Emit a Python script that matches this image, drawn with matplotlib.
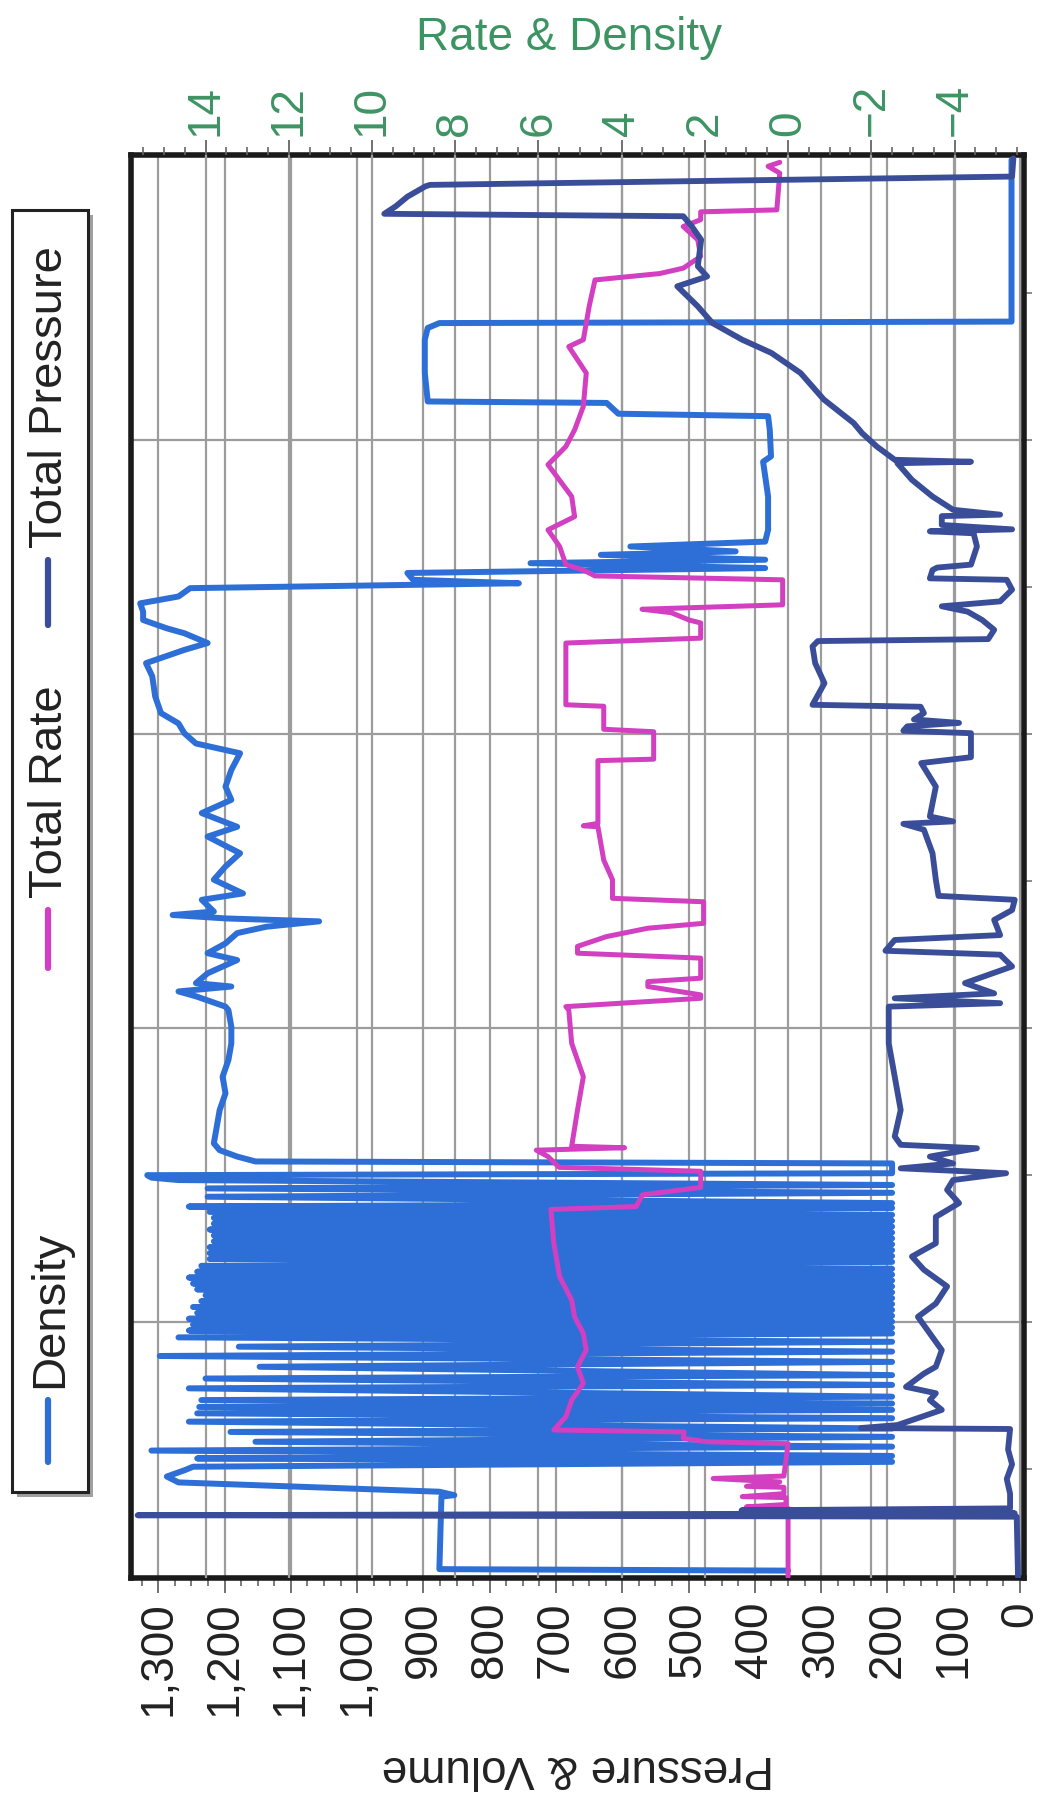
import numpy as np
import matplotlib
matplotlib.use('Agg')
import matplotlib.pyplot as plt
from matplotlib.ticker import MultipleLocator, FuncFormatter
from matplotlib.lines import Line2D
from matplotlib.patches import Rectangle

plt.rcParams['font.family'] = ['Liberation Sans', 'DejaVu Sans']

# job time (min) runs up the page, chart is printed sideways
press_time = [8.0, 20.3, 20.6, 21.0, 21.6, 22.0, 25.0, 28.0, 31.0, 34.0, 38.2, 38.4, 39.0,
              42.1, 44.1, 45.5, 46.8, 49.5, 50.9, 54.3, 57.7, 61.1, 63.8, 67.3, 70.7, 73.4,
              76.1, 81.5, 84.3, 87.0, 89.0, 90.4, 91.4, 92.4, 93.8, 95.5, 96.2, 97.9, 103.3,
              110.1, 116.9, 121.7, 124.4, 125.1, 126.1, 127.1, 129.2, 132.6, 135.0, 135.8,
              138.0, 139.0, 142.1, 144.1, 146.2, 147.0, 150.3, 155.7, 160.5, 161.7, 162.2,
              163.2, 169.3, 174.1, 175.3, 180.2, 180.7, 181.6, 182.3, 183.0, 184.3, 185.6,
              186.0, 190.4, 194.5, 197.9, 199.0, 199.4, 201.3, 203.3, 205.0, 206.1, 207.1,
              209.5, 211.5, 211.8, 213.5, 214.0, 214.6, 218.3, 221.0, 221.4, 221.8, 222.7,
              224.5, 224.8, 225.8, 228.5, 231.9, 235.3, 235.6, 236.0, 238.7, 241.4, 243.5,
              248.3, 253.7, 257.8, 260.5, 263.9, 267.3, 271.4, 273.4, 275.5, 280.9, 283.6,
              285.7, 286.2, 287.7, 289.7, 291.8, 292.1, 293.8, 297.5]
press_vals = [3, 5, 1331, 8, 420, 15, 15, 20, 12, 18, 15, 240, 185,
              118, 136, 127, 172, 145, 127, 118, 136, 154, 127, 110, 145, 163,
              127, 127, 92, 110, 101, 21, 180, 101, 136, 65, 180, 189, 180,
              189, 198, 198, 198, 30, 189, 39, 83, 12, 30, 203,
              189, 30, 39, 12, 8, 123, 127, 132, 145, 176, 101,
              136, 127, 149, 74, 74, 176, 170, 92, 160, 145, 150,
              313, 295, 309, 313, 305, 48, 39, 57, 79, 118, 30,
              12, 20, 136, 132, 125, 74, 65, 70, 136, 12, 118,
              118, 30, 101, 132, 163, 185, 74, 189, 216, 238, 251,
              296, 331, 375, 419, 464, 486, 517, 472, 486, 481, 495,
              508, 959, 942, 924, 897, 890, 12, 10]

rate_time = [8.0, 20.3, 22.0, 22.3, 22.8, 24.2, 24.4, 25.0, 26.3, 26.5, 27.4, 28.1, 28.6,
             35.2, 35.6, 36.3, 37.6, 38.0, 40.7, 44.1, 47.5, 50.9, 54.3, 57.7, 61.1, 64.5,
             69.3, 76.1, 83.0, 83.6, 86.0, 87.5, 90.8, 91.6, 93.8, 95.1, 95.6, 95.9, 103.3,
             110.1, 116.9, 123.7, 124.4, 126.1, 126.8, 128.5, 129.5, 130.2, 134.3, 135.3,
             136.7, 138.7, 140.4, 141.4, 145.8, 146.5, 150.3, 154.3, 161.1, 161.3, 161.8,
             169.3, 174.6, 174.9, 180.5, 181.0, 185.7, 186.0, 198.6, 199.6, 202.7, 203.3,
             204.8, 205.5, 206.4, 211.5, 212.3, 213.5, 214.6, 218.3, 221.7, 224.4, 228.5,
             235.0, 238.7, 242.1, 246.9, 253.7, 259.1, 260.5, 267.3, 272.7, 274.0, 275.1,
             277.5, 280.9, 283.6, 285.0, 286.6, 287.0, 294.5, 295.9, 296.7]
rate_vals = [0.0, 0.0, 0.0, 1.0, 0.05, 0.05, 1.1, 0.1, 0.1, 1.0, 0.2, 1.8, 0.1,
             0.0, 1.96, 2.52, 2.5, 5.63, 5.34, 5.2, 4.92, 5.06, 4.85, 4.92, 5.13, 5.2,
             5.49, 5.63, 5.7, 3.65, 3.5, 2.1, 2.1, 5.5, 5.77, 6.05, 3.93, 5.2, 5.06,
             4.92, 5.2, 5.27, 5.34, 2.1, 2.1, 3.37, 3.37, 2.1, 2.1, 5.06,
             5.06, 4.36, 3.37, 2.03, 2.03, 4.22, 4.22, 4.43, 4.57, 4.92, 4.57,
             4.57, 4.57, 3.23, 3.23, 4.43, 4.43, 5.34, 5.34, 2.1, 2.1, 2.38,
             2.81, 3.51, 0.13, 0.13, 4.64, 4.92, 5.34, 5.49, 5.77, 5.13, 5.2,
             5.77, 5.34, 5.13, 4.92, 4.85, 5.27, 4.92, 4.78, 4.64, 3.09, 2.52,
             2.1, 2.17, 2.52, 2.1, 2.1, 0.27, 0.2, 0.48, 0.2]

dens_time = [9.3, 9.6, 24.4, 24.7, 25.4, 27.3, 28.5, 29.8, 30.5,
             31.5, 32.2, 32.7, 33.8, 34.6, 35.6, 36.6, 37.6, 38.3, 39.7, 40.4, 41.4, 42.1,
             42.7, 43.4, 44.1, 44.8, 46.5, 47.2, 48.5, 49.2, 50.9, 51.9, 53.1, 54.0, 55.0,
             56.0, 56.9, 57.7,
             58.3, 58.9, 59.5, 60.1, 60.7, 61.3, 61.9, 62.5, 63.1, 63.7, 64.3, 64.9, 65.5,
             66.1, 66.7, 67.3, 67.9, 68.5, 69.1, 69.7, 70.3, 70.9, 71.5, 72.3, 72.9, 73.5,
             74.1, 74.7, 75.3, 75.9, 76.5, 77.1, 77.7, 78.3, 78.9, 79.5, 80.1, 80.7, 81.3,
             81.9, 82.5,
             83.3, 83.6, 84.3, 85.6, 86.4, 87.3, 88.0, 89.0, 89.5, 90.0, 90.4, 92.4, 92.8,
             93.8, 95.1, 96.5, 99.9, 103.3, 106.7, 110.1, 113.5, 116.9, 120.3, 123.7, 124.4,
             126.5, 127.5, 128.5, 129.2, 131.2, 133.9, 135.3, 137.3, 139.4, 140.7, 141.8,
             142.4, 143.1, 143.8, 146.2, 147.5, 150.3, 153.0, 155.7, 159.1, 161.1, 163.9,
             166.6, 169.3, 172.7, 176.1, 178.1, 180.2, 182.2, 184.3, 187.7, 191.8, 194.5,
             197.2, 198.6, 200.6, 201.6, 203.3, 205.0, 206.7, 208.1, 209.8, 210.8, 211.5,
             212.9, 213.9, 214.9, 215.6, 216.6, 217.3, 218.3, 219.3, 221.7, 228.5, 235.6,
             236.7, 242.1, 244.9, 245.4, 247.6, 247.9, 253.7, 260.5, 262.9, 263.9, 264.2,
             297.2]
dens_vals = [0.0, 8.38, 8.33, 8.02, 8.38, 14.65, 14.93, 14.5, 14.3,
             -2.5, 14.2, -2.5, 15.3, -2.5, 12.8, -2.5, 13.4, -2.5, 14.4, -2.5, 14.2, -2.5,
             14.15, -2.5, 14.1, -2.5, 14.4, -2.5, 14.0, -2.5, 12.7, -2.5, 15.1, -2.5, 13.2,
             -2.5, 14.65, -2.5,
             14.4, -2.5, 14.3, -2.5, 14.4, -2.5, 14.2, -2.5, 14.3, -2.5, 14.1, -2.5, 14.0,
             -2.5, 14.2, -2.5, 14.3, -2.5, 14.4, -2.5, 14.2, -2.5, 14.1, -2.5, 13.9, -2.5,
             13.9, -2.5, 13.9, -2.5, 13.8, -2.5, 13.8, -2.5, 13.9, -2.5, 13.8, -2.5, 13.8,
             -2.5, 13.9,
             -2.5, 14.4, -2.5, 13.95, -2.5, 13.95, -2.5, 14.65, 15.3, 15.4, -2.5, -2.5, 12.8,
             13.24, 13.66, 13.8, 13.73, 13.66, 13.52, 13.59, 13.45, 13.38, 13.38, 13.45, 13.52,
             14.23, 14.65, 13.38, 14.23, 13.95, 13.24, 13.95, 13.52, 13.24, 12.54, 11.27,
             13.52, 14.79, 13.8, 14.09, 13.1, 13.8, 13.52, 13.17, 13.95, 13.24, 14.09,
             13.38, 13.52, 13.38, 13.17, 14.23, 14.51, 14.65, 15.07, 15.21, 15.28, 15.43,
             14.51, 13.95, 14.51, 14.93, 15.5, 15.5, 15.57, 14.65, 14.37, 6.47, 9.01,
             9.15, 0.55, 6.19, 0.55, 4.5, 1.26, 3.79, 0.55, 0.48, 0.48, 0.6,
             0.41, 0.44, 0.48, 4.08, 4.36, 8.66, 8.73, 8.73, 8.66, 8.38, -5.37,
             -5.37]

legend_names = ['Density', 'Total Rate', 'Total Pressure']

c_dens = '#2d6fd6'
c_rate = '#d23fc0'
c_press = '#3a4d99'
c_green = '#3d9463'
grid_c = '#9c9c9c'

fig = plt.figure(figsize=(10.45, 17.96), dpi=100)
ax = fig.add_axes([0.1254, 0.1214, 0.8545, 0.7923])
axr = ax.twiny()
axp = ax.twiny()

ax.set_ylim(7.8, 298.2)
ax.set_xlim(1341, -6)
axp.set_xlim(1341, -6)
axr.set_xlim(15.79, -5.67)

# pressure axis (bottom of the page)
ax.xaxis.set_major_locator(MultipleLocator(100))
ax.xaxis.set_minor_locator(MultipleLocator(25))
ax.xaxis.set_major_formatter(FuncFormatter(lambda v, p: f'{v:,.0f}'))
ax.tick_params(axis='x', which='major', direction='out', length=11, width=1.3,
               color='#666666', labelsize=33, labelrotation=90, pad=6, labelcolor='#222222')
ax.tick_params(axis='x', which='minor', direction='out', length=6, width=1.2, color='#666666')

# time axis, labels were cut off by the scan
ax.yaxis.set_major_locator(MultipleLocator(60))
ax.yaxis.set_minor_locator(MultipleLocator(30))
ax.yaxis.tick_right()
ax.tick_params(axis='y', which='both', direction='out', length=6, width=1.2,
               color='#777777', labelright=False, labelleft=False)
ax.grid(which='major', axis='both', color=grid_c, lw=1.6)

for s in ax.spines.values():
    s.set_linewidth(4)
    s.set_color('#1a1a1a')

# rate & density axis (top)
axr.xaxis.set_major_locator(MultipleLocator(2))
axr.xaxis.set_minor_locator(MultipleLocator(0.5))
axr.tick_params(axis='x', which='major', direction='out', length=11, width=1.3,
                color='#666666', labelsize=33, labelrotation=90, pad=3, labelcolor=c_green)
axr.tick_params(axis='x', which='minor', direction='out', length=6, width=1.2, color='#666666')
axr.grid(which='major', axis='x', color=grid_c, lw=1.6)
axr.set_axisbelow(True)

axp.set_xticks([])
axp.tick_params(top=False, labeltop=False)
for a in (axr, axp):
    for s in a.spines.values():
        s.set_visible(False)

axr.plot(dens_vals, dens_time, color=c_dens, lw=4.3, solid_joinstyle='round', solid_capstyle='round')
axr.plot(rate_vals, rate_time, color=c_rate, lw=3.6, solid_joinstyle='round', solid_capstyle='round')
axp.plot(press_vals, press_time, color=c_press, lw=4.2, solid_joinstyle='round', solid_capstyle='round')

W, H = 1045.0, 1796.0
fig.text(578 / W, 1 - 1768 / H, 'Pressure & Volume', rotation=180, ha='center', va='center',
         fontsize=33, color='#222222')
fig.text(569 / W, 1 - 38 / H, 'Rate & Density', ha='center', va='center',
         fontsize=33, color=c_green)

# legend box on the left, drawn by hand because the text runs sideways
fig.add_artist(Rectangle((17 / W, 1 - 1497 / H), 76 / W, 1282 / H, transform=fig.transFigure,
                         facecolor='#a0a0a0', edgecolor='none'))
fig.add_artist(Rectangle((12 / W, 1 - 1492 / H), 76 / W, 1282 / H, transform=fig.transFigure,
                         facecolor='white', edgecolor='#222222', lw=2.2))
leg_colors = [c_dens, c_rate, c_press]
leg_handle = [(1400, 1462), (910, 968), (560, 625)]
for name, col, hy in zip(legend_names, leg_colors, leg_handle):
    fig.add_artist(Line2D([48 / W, 48 / W], [1 - hy[0] / H, 1 - hy[1] / H], transform=fig.transFigure,
                          color=col, lw=4.5, solid_capstyle='round'))
    # text starts just above its handle and reads upward
    fig.text(50 / W, 1 - (hy[0] - 12) / H, name, rotation=90, ha='center', va='bottom',
             fontsize=34, color='#222222')

fig.savefig('out.png', dpi=100)
